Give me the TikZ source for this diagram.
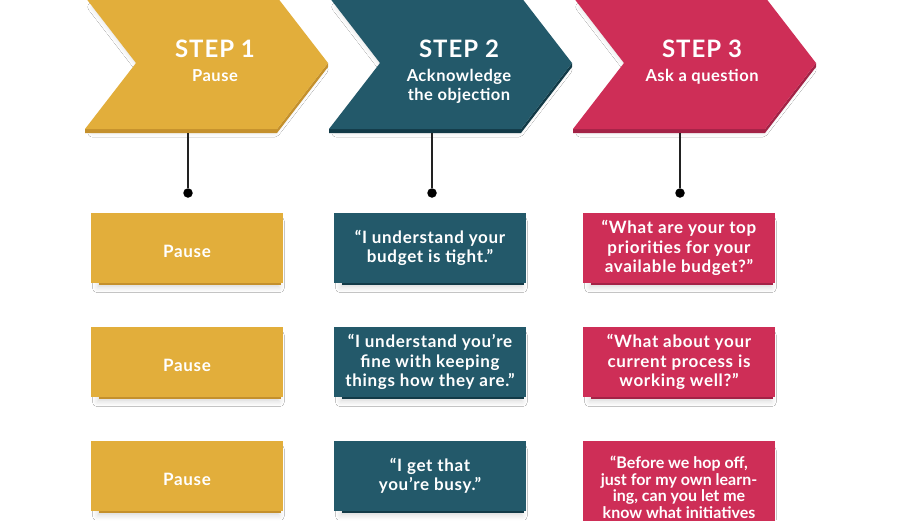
\documentclass[tikz,border=0pt]{standalone}
\usepackage{fontspec}
\setmainfont{Lato}
\newfontfamily\widefont{Lato}[LetterSpace=4]
\newfontfamily\midfont{Lato}[LetterSpace=3]
\usetikzlibrary{shadows,shadows.blur}
\definecolor{gold}{HTML}{E2AE3B}
\definecolor{golddk}{HTML}{C4902C}
\definecolor{teal}{HTML}{23596A}
\definecolor{tealdk}{HTML}{123A47}
\definecolor{crim}{HTML}{CE2E57}
\definecolor{crimdk}{HTML}{A32246}
\definecolor{linec}{HTML}{222222}
\begin{document}
\begin{tikzpicture}[x=1pt,y=-1pt,
  soft/.style={blur shadow={shadow xshift=1.5pt, shadow yshift=-7pt, shadow blur radius=5pt, shadow opacity=14, shadow scale=0.95}},
  box/.style={minimum width=192pt, minimum height=70pt, inner sep=0pt, align=center, text=white,
    font=\widefont\bfseries\fontsize{17}{19.5}\selectfont},
  goldbox/.style={box, fill=gold, soft, general shadow={fill=golddk, shadow xshift=3pt, shadow yshift=-4pt}},
  tealbox/.style={box, fill=teal, soft, general shadow={fill=tealdk, shadow xshift=3pt, shadow yshift=-4pt}},
  crimbox/.style={box, fill=crim, soft, general shadow={fill=crimdk, shadow xshift=3pt, shadow yshift=-4pt}},
  steptitle/.style={anchor=base, text=white, inner sep=0pt, font=\widefont\bfseries\fontsize{24}{26}\selectfont},
  stepsub/.style={anchor=base, text=white, inner sep=0pt, align=center, font=\midfont\bfseries\fontsize{16.5}{19}\selectfont},
  stem/.style={draw=linec, line width=1.6pt},
  dotnode/.style={circle, fill=black, inner sep=0pt, minimum size=9.5pt}
]
\useasboundingbox (0,0) rectangle (900,520);
\clip (0,0) rectangle (900,520);
\fill[white] (0,0) rectangle (900,520);

% chevrons
\foreach \L/\c/\d in {85/gold/golddk, 329/teal/tealdk, 573/crim/crimdk}{
  \path[soft] (\L,-3) -- (\L+192,-3) -- (\L+243,63) -- (\L+192,129) -- (\L,129) -- (\L+51,63) -- cycle;
  \fill[\d] (\L+243,63) -- (\L+243,67) -- (\L+192,133) -- (\L,133) -- (\L,129) -- (\L+192,129) -- cycle;
  \fill[\c] (\L,-3) -- (\L+192,-3) -- (\L+243,63) -- (\L+192,129) -- (\L,129) -- (\L+51,63) -- cycle;
}

% step labels
\node[steptitle] (t1) at (215,57) {STEP 1};
\node[stepsub] (s1) at (215,81) {Pause};
\node[steptitle] (t2) at (459,57) {STEP 2};
\node[stepsub, anchor=north] (s2) at (459,69) {Acknowledge\\the objection};
\node[steptitle] (t3) at (702,57) {STEP 3};
\node[stepsub] (s3) at (702,81) {Ask a question};

% stems
\coordinate (c1) at (188,133);
\coordinate (c2) at (432,133);
\coordinate (c3) at (680,133);
\node[dotnode] (d1) at (188,193) {};
\node[dotnode] (d2) at (432,193) {};
\node[dotnode] (d3) at (680,193) {};
\draw[stem] (c1) -- (d1);
\draw[stem] (c2) -- (d2);
\draw[stem] (c3) -- (d3);

% row 1
\node[goldbox] (b11) at (187,248) {\rule{0pt}{19pt}Pause};
\node[tealbox] (b21) at (430,248) {“I understand your\\budget is tight.”};
\node[crimbox] (b31) at (679,248) {“What are your top\\priorities for your\\available budget?”};
% row 2
\node[goldbox] (b12) at (187,362) {\rule{0pt}{19pt}Pause};
\node[tealbox] (b22) at (430,362) {“I understand you’re\\fine with keeping\\things how they are.”};
\node[crimbox] (b32) at (679,362) {“What about your\\current process is\\working well?”};
% row 3
\node[goldbox] (b13) at (187,476) {\rule{0pt}{19pt}Pause};
\node[tealbox] (b23) at (430,476) {“I get that\\you’re busy.”};
\node[crimbox, minimum height=130pt] (b33) at (679,506) {};
\node[anchor=north, inner sep=0pt, align=center, text=white,
  font=\bfseries\fontsize{16}{16.5}\selectfont] (t33) at (679,456)
  {“Before we hop off,\\just for my own learn-\\ing, can you let me\\know what initiatives};
\end{tikzpicture}
\end{document}
